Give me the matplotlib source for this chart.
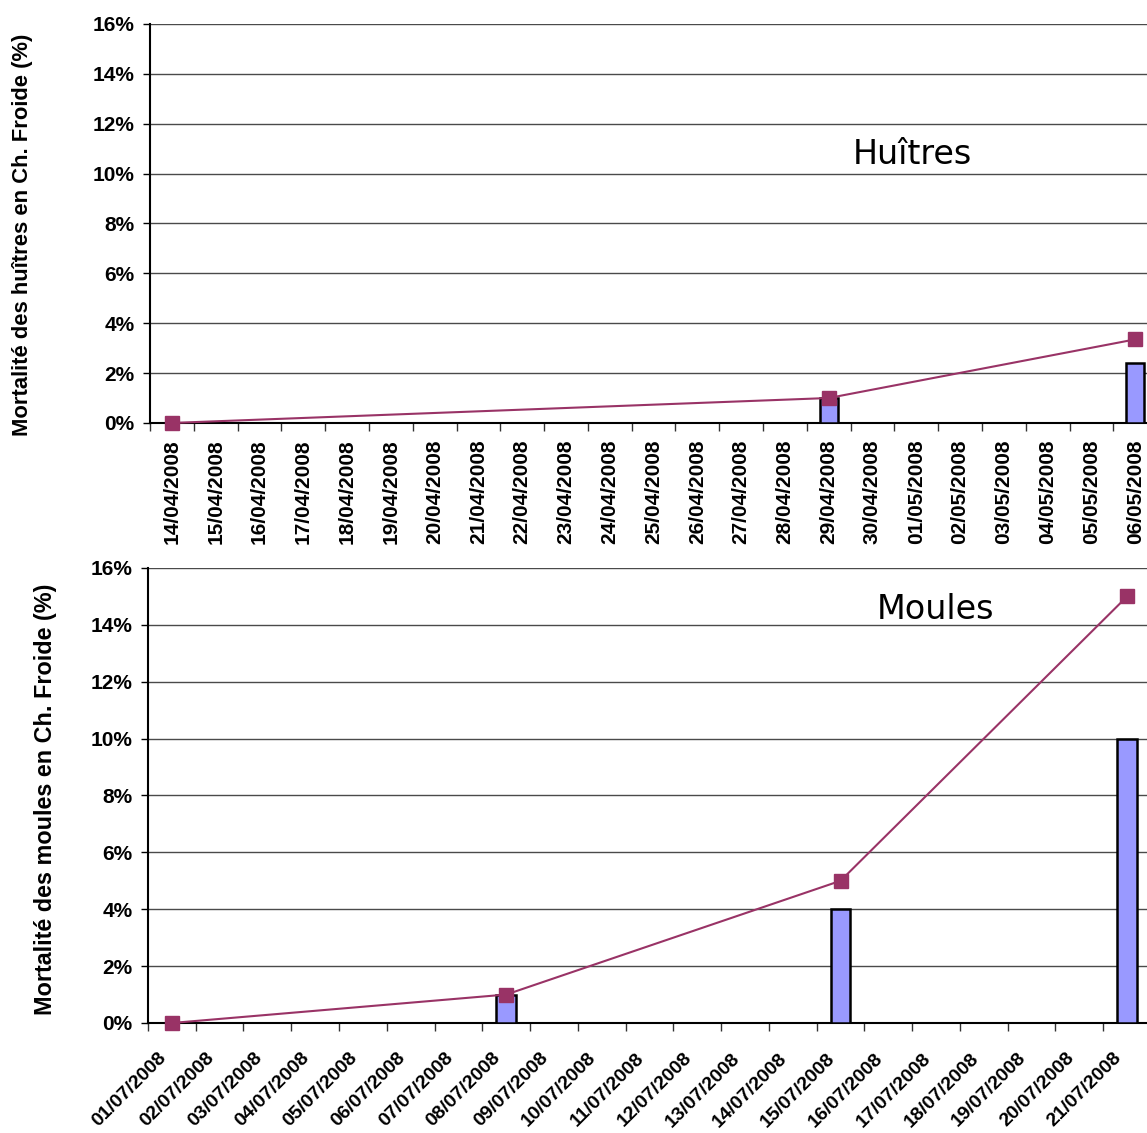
import numpy as np
import matplotlib
matplotlib.use("Agg")
import matplotlib.pyplot as plt
from matplotlib.ticker import FixedLocator, PercentFormatter
from matplotlib.transforms import ScaledTranslation

# dates, oysters (huîtres)
dates_h = ["14/04/2008", "15/04/2008", "16/04/2008", "17/04/2008", "18/04/2008",
           "19/04/2008", "20/04/2008", "21/04/2008", "22/04/2008", "23/04/2008",
           "24/04/2008", "25/04/2008", "26/04/2008", "27/04/2008", "28/04/2008",
           "29/04/2008", "30/04/2008", "01/05/2008", "02/05/2008", "03/05/2008",
           "04/05/2008", "05/05/2008", "06/05/2008"]
# daily mortality (bars) and cumulated mortality (line), in %
bar_dates_h = ["29/04/2008", "06/05/2008"]
bar_vals_h = [1.0, 2.4]
line_dates_h = ["14/04/2008", "29/04/2008", "06/05/2008"]
line_vals_h = [0.0, 1.0, 3.35]

# dates, mussels (moules)
dates_m = ["01/07/2008", "02/07/2008", "03/07/2008", "04/07/2008", "05/07/2008",
           "06/07/2008", "07/07/2008", "08/07/2008", "09/07/2008", "10/07/2008",
           "11/07/2008", "12/07/2008", "13/07/2008", "14/07/2008", "15/07/2008",
           "16/07/2008", "17/07/2008", "18/07/2008", "19/07/2008", "20/07/2008",
           "21/07/2008"]
bar_dates_m = ["08/07/2008", "15/07/2008", "21/07/2008"]
bar_vals_m = [1.0, 4.0, 10.0]
line_dates_m = ["01/07/2008", "08/07/2008", "15/07/2008", "21/07/2008"]
line_vals_m = [0.0, 1.0, 5.0, 15.0]

BAR_COLOR = "#9999FF"
LINE_COLOR = "#993366"
GRID_COLOR = "#4a4a4a"
BOLD = dict(family="Liberation Sans", weight="bold")

fig = plt.figure(figsize=(11.47, 11.33), dpi=100)
ax1 = fig.add_axes([0.1308, 0.6267, 0.878, 0.3522])
ax2 = fig.add_axes([0.1290, 0.0971, 0.8745, 0.4016])


def draw_panel(ax, dates, bar_dates, bar_vals, line_dates, line_vals,
               ylabel, title, title_xy, ylabel_xy, ylabel_size, rot):
    idx = {d: i for i, d in enumerate(dates)}
    bx = [idx[d] for d in bar_dates]
    lx = [idx[d] for d in line_dates]
    ax.bar(bx, bar_vals, width=0.41, color=BAR_COLOR, edgecolor="black",
           linewidth=1.8, zorder=3)
    ax.plot(lx, line_vals, color=LINE_COLOR, linewidth=1.5, marker="s",
            markersize=10.5, markeredgecolor=LINE_COLOR, zorder=4, clip_on=False)

    ax.set_xlim(-0.5, len(dates) - 0.5)
    ax.set_ylim(0, 16)
    ax.yaxis.set_major_locator(FixedLocator(np.arange(0, 17, 2)))
    ax.yaxis.set_major_formatter(PercentFormatter(decimals=0))
    ax.grid(axis="y", color=GRID_COLOR, linewidth=1.0, zorder=0)
    ax.set_axisbelow(True)

    # labels at category centres, tick marks between categories
    ax.set_xticks(np.arange(len(dates)))
    ax.set_xticks(np.arange(len(dates) + 1) - 0.5, minor=True)
    if rot == 90:
        ax.set_xticklabels(dates, rotation=90, ha="center", va="top", **BOLD,
                           fontsize=15)
        ax.tick_params(axis="x", which="major", length=0, pad=12)
    else:
        ax.set_xticklabels(dates, rotation=45, ha="right", va="center",
                           rotation_mode="anchor", **BOLD, fontsize=14)
        ax.tick_params(axis="x", which="major", length=0, pad=23.5)
        shift = ScaledTranslation(-8 / 100, 0, fig.dpi_scale_trans)
        for lab in ax.get_xticklabels():
            lab.set_transform(lab.get_transform() + shift)
    ax.tick_params(axis="x", which="minor", length=6, width=1.0,
                   color="#333333", direction="out")
    ax.tick_params(axis="y", length=5, width=1.0, direction="out", pad=6)
    for lab in ax.get_yticklabels():
        lab.set_fontproperties(matplotlib.font_manager.FontProperties(
            family="Liberation Sans", weight="bold", size=15))

    for side in ("top", "right"):
        ax.spines[side].set_visible(False)
    for side in ("left", "bottom"):
        ax.spines[side].set_linewidth(1.5)
        ax.spines[side].set_color("black")

    ax.set_ylabel(ylabel, fontsize=ylabel_size, **BOLD)
    ax.yaxis.set_label_coords(*ylabel_xy)
    ax.text(title_xy[0], title_xy[1], title, transform=ax.transAxes,
            fontsize=24, family="DejaVu Sans", ha="center", va="center")


draw_panel(ax1, dates_h, bar_dates_h, bar_vals_h, line_dates_h, line_vals_h,
           "Mortalité des huîtres en Ch. Froide (%)", "Huîtres",
           ((912 - 150) / 1007, (423 - 155) / 399), (-0.116, 0.471), 15.8, 90)
draw_panel(ax2, dates_m, bar_dates_m, bar_vals_m, line_dates_m, line_vals_m,
           "Mortalité des moules en Ch. Froide (%)", "Moules",
           ((935 - 148) / 1003, (1023 - 610) / 455), (-0.0907, 0.492), 16.8, 45)

fig.savefig("out.png", dpi=100)
